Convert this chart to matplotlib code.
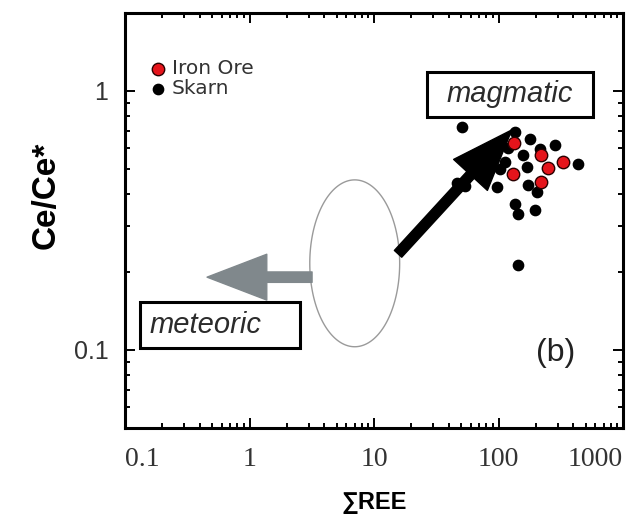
"""Ce/Ce* vs sum REE (log-log) with magmatic / meteoric trend arrows, panel (b)."""

import matplotlib

matplotlib.use("Agg")

import matplotlib.pyplot as plt
import numpy as np
from matplotlib.patches import FancyArrowPatch, Rectangle
from matplotlib.ticker import NullFormatter

# --- data --------------------------------------------------------------------
skarn_ree = [51, 136, 179, 284, 435, 215, 157, 113, 169, 97, 173, 204, 136, 143,
             196, 143, 46, 54, 88, 120, 102, 75]
skarn_ce = [0.726, 0.695, 0.653, 0.619, 0.523, 0.597, 0.566, 0.532, 0.509, 0.426,
            0.434, 0.408, 0.366, 0.335, 0.347, 0.213, 0.44, 0.43, 0.56, 0.60, 0.50, 0.48]

ore_ree = [133, 219, 250, 330, 131, 219]
ore_ce = [0.630, 0.566, 0.505, 0.532, 0.478, 0.445]

x_ticks = [0.1, 1, 10, 100, 1000]
x_tick_labels = ["0.1", "1", "10", "100", "1000"]
y_ticks = [0.1, 1]
y_tick_labels = ["0.1", "1"]

# trend sketch (data coordinates)
ellipse_center = (7.0, 0.216)   # sum REE, Ce/Ce*
ellipse_half_decades = (0.361, 0.322)
magmatic_arrow = ((15.6, 0.235), (128, 0.707))
meteoric_arrow = ((3.18, 0.191), (0.456, 0.191))

SANS = ["Liberation Sans", "DejaVu Sans"]


def main() -> None:
    fig = plt.figure(figsize=(6.33, 5.15), dpi=100)
    ax = fig.add_axes([0.1975, 0.169, 0.7867, 0.806])
    ax.set_xscale("log")
    ax.set_yscale("log")
    ax.set_xlim(0.1, 1000)
    ax.set_ylim(0.05, 2)

    # ellipse drawn in log space so it stays an ellipse on screen
    t = np.linspace(0, 2 * np.pi, 240)
    ex = 10 ** (np.log10(ellipse_center[0]) + ellipse_half_decades[0] * np.cos(t))
    ey = 10 ** (np.log10(ellipse_center[1]) + ellipse_half_decades[1] * np.sin(t))
    ax.fill(ex, ey, facecolor="white", edgecolor="#9a9a9a", lw=1.0, zorder=2)

    gray = FancyArrowPatch(meteoric_arrow[0], meteoric_arrow[1],
                           arrowstyle="simple,head_length=4.3,head_width=3.3,tail_width=0.75",
                           mutation_scale=10, color="#80888c", shrinkA=0, shrinkB=0, zorder=2)
    ax.add_patch(gray)
    black = FancyArrowPatch(magmatic_arrow[0], magmatic_arrow[1],
                            arrowstyle="simple,head_length=4.4,head_width=3.3,tail_width=0.72",
                            mutation_scale=10, color="black", shrinkA=0, shrinkB=0, zorder=2)
    ax.add_patch(black)

    sk = ax.scatter(skarn_ree, skarn_ce, s=55, color="black", zorder=3, label="Skarn")
    ore = ax.scatter(ore_ree, ore_ce, s=80, facecolor="#e5141b", edgecolor="#2a0000",
                     lw=1.0, zorder=4, label="Iron Ore")

    # labelled boxes
    for (x0, y0, w, h), txt, tx, ha in [
        ((0.606, 0.749, 0.334, 0.109), "magmatic", 0.773, "center"),
        ((0.030, 0.193, 0.321, 0.111), "meteoric", 0.050, "left"),
    ]:
        ax.add_patch(Rectangle((x0, y0), w, h, transform=ax.transAxes, fc="white",
                               ec="black", lw=2.2, zorder=5))
        ax.text(tx, y0 + h / 2, txt, transform=ax.transAxes, ha=ha, va="center",
                fontsize=21, style="italic", color="#2b2b2b", family=SANS, zorder=6)

    ax.text(0.865, 0.181, "(b)", transform=ax.transAxes, ha="center", va="center",
            fontsize=23, color="#222222", family=SANS)

    leg = ax.legend(handles=[ore, sk], loc="upper left", bbox_to_anchor=(0.047, 0.888),
                    frameon=False, handletextpad=0.15, labelspacing=0.05, borderaxespad=0,
                    handlelength=1.0, borderpad=0,
                    prop={"family": "DejaVu Sans", "size": 14.5})
    for txt in leg.get_texts():
        txt.set_color("#333333")

    # axes styling: inward ticks on all sides, serif x labels, sans y labels
    ax.set_xticks(x_ticks, labels=x_tick_labels, fontfamily="Liberation Serif", fontsize=20)
    ax.set_yticks(y_ticks, labels=y_tick_labels, fontfamily=SANS, fontsize=18)
    ax.xaxis.set_minor_formatter(NullFormatter())
    ax.yaxis.set_minor_formatter(NullFormatter())
    xl = ax.get_xticklabels()
    xl[0].set_ha("left")
    xl[-1].set_ha("right")
    ax.tick_params(which="both", direction="in", top=True, right=True, width=1.4,
                   color="black")
    ax.tick_params(which="major", length=7)
    ax.tick_params(which="minor", length=3.5)
    ax.tick_params(axis="x", which="major", pad=14, labelcolor="#333333")
    ax.tick_params(axis="y", which="major", pad=12, labelcolor="#333333")
    for sp in ax.spines.values():
        sp.set_linewidth(2.2)

    ax.set_xlabel("\u2211REE", fontsize=17, fontweight="bold", family=SANS)
    ax.xaxis.set_label_coords(0.5, -0.153)
    ax.set_ylabel("Ce/Ce*", fontsize=24, fontweight="bold", family=SANS)
    ax.yaxis.set_label_coords(-0.127, 0.56)

    fig.savefig("out.png", dpi=100)
    plt.close(fig)


if __name__ == "__main__":
    main()
